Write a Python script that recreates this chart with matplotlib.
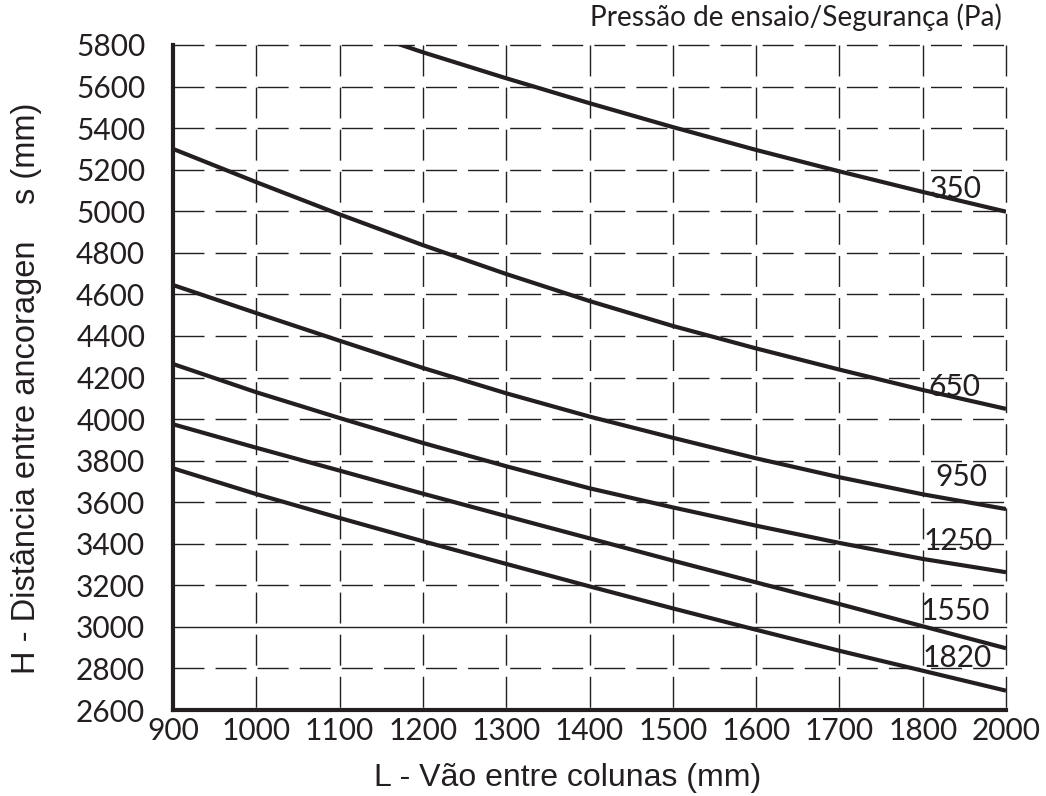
import matplotlib
matplotlib.use("Agg")
import matplotlib.pyplot as plt

# Column span categories (mm) -- equally spaced on the chart
span_labels = ["900", "1000", "1100", "1200", "1300", "1400",
               "1500", "1600", "1700", "1800", "2000"]

# Anchor distance H (mm) for each test/safety pressure, one value per span
h_350 = [None, None, 5900, 5765, 5640, 5520, 5405, 5295, 5192, 5093, 4998]
h_650 = [5300, 5140, 4985, 4837, 4698, 4568, 4448, 4340, 4238, 4140, 4049]
h_950 = [4645, 4510, 4377, 4246, 4124, 4012, 3910, 3811, 3720, 3638, 3567]
h_1250 = [4265, 4129, 4005, 3885, 3773, 3667, 3575, 3487, 3404, 3327, 3263]
h_1550 = [3975, 3862, 3752, 3641, 3533, 3426, 3319, 3214, 3110, 3003, 2897]
h_1820 = [3763, 3639, 3524, 3412, 3303, 3195, 3089, 2986, 2885, 2789, 2693]

pressures = ["350", "650", "950", "1250", "1550", "1820"]
series = [h_350, h_650, h_950, h_1250, h_1550, h_1820]

# Curve label anchors (span position, H value)
label_pos_x = [9.39, 9.38, 9.47, 9.42, 9.39, 9.41]
label_pos_y = [5107, 4154, 3721, 3415, 3078, 2849]

y_ticks = list(range(2600, 5801, 200))

INK = "#231f20"
NUM_FONT = ["Lato", "DejaVu Sans"]
LBL_FONT = ["Liberation Sans", "DejaVu Sans"]

W, H = 1046, 796
fig = plt.figure(figsize=(W / 100, H / 100), dpi=100)
ax = fig.add_axes([173 / W, 1 - 710 / H, (1006 - 173) / W, (710 - 45) / H])

xpos = list(range(len(span_labels)))
ax.set_xlim(0, len(span_labels) - 1)
ax.set_ylim(2600, 5800)

# Dashed grid: horizontal lines drawn left to right, vertical lines top to bottom
dash = (0, (22.3, 8.0))
for yv in y_ticks[1:]:
    style = "-" if yv == 3000 else dash
    ax.plot([0, len(span_labels) - 1], [yv, yv], color=INK, lw=1.0,
            linestyle=style, zorder=1, clip_on=False)
for xv in xpos[1:]:
    ax.plot([xv, xv], [5800, 2600], color=INK, lw=1.0,
            linestyle=dash, zorder=1, clip_on=False)

# Pressure curves
for vals in series:
    xs = [x for x, v in zip(xpos, vals) if v is not None]
    ys = [v for v in vals if v is not None]
    ax.plot(xs, ys, color=INK, lw=3.0, solid_capstyle="butt",
            solid_joinstyle="round", zorder=3)

for txt, lx, ly in zip(pressures, label_pos_x, label_pos_y):
    ax.text(lx, ly, txt, ha="center", va="center", fontsize=21.5,
            family=NUM_FONT, color=INK, zorder=4)

for side in ("top", "right"):
    ax.spines[side].set_visible(False)
for side in ("left", "bottom"):
    ax.spines[side].set_linewidth(3.0)
    ax.spines[side].set_color(INK)

ax.set_xticks(xpos)
ax.set_xticklabels(span_labels)
ax.set_yticks(y_ticks)
ax.set_yticklabels([str(v) for v in y_ticks])
ax.tick_params(axis="both", length=0, colors=INK)
ax.tick_params(axis="y", pad=20)
ax.tick_params(axis="x", pad=5.0)
for lab in ax.get_xticklabels() + ax.get_yticklabels():
    lab.set_fontfamily(NUM_FONT)
    lab.set_fontsize(21.5)

fig.text(567.5 / W, 1 - 778 / H, "L - Vão entre colunas (mm)",
         ha="center", va="center", fontsize=23, family=LBL_FONT, color=INK)
fig.text(27 / W, 1 - 388 / H, "H - Distância entre ancoragen    s (mm)",
         ha="center", va="center", rotation=90, fontsize=23.5,
         family=LBL_FONT, color=INK)
fig.text(1002 / W, 1 - 17 / H, "Pressão de ensaio/Segurança (Pa)",
         ha="right", va="center", fontsize=20.2, family=NUM_FONT,
         color=INK)

fig.savefig("out.png", dpi=100, facecolor="white")
